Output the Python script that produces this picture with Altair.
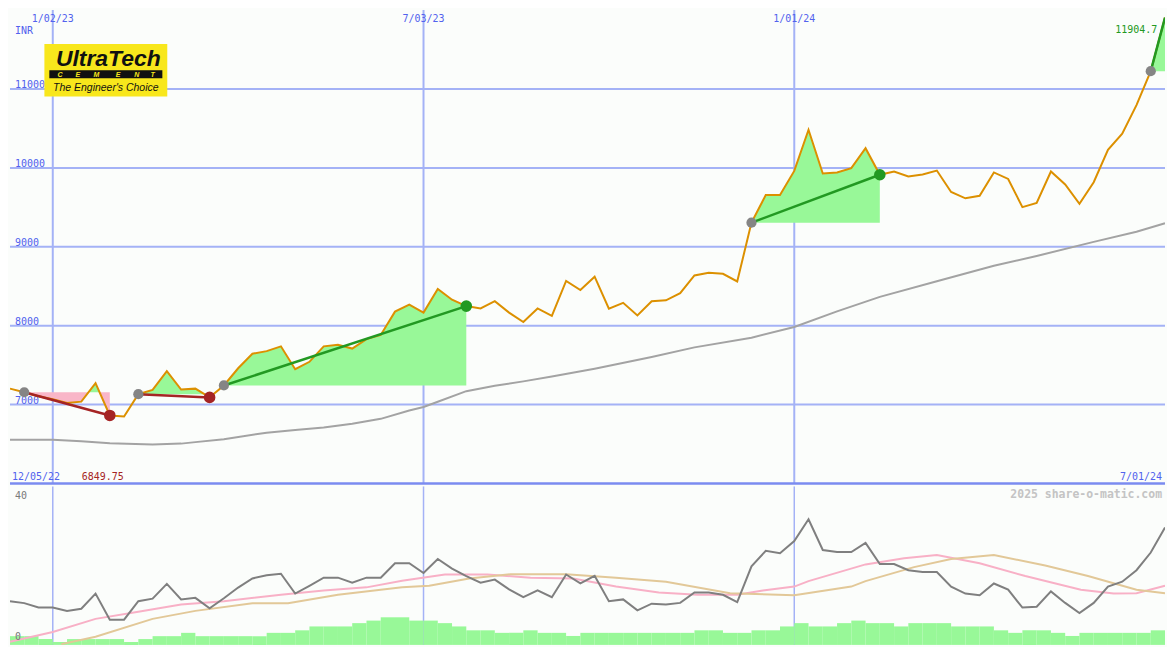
import altair as alt
import pandas as pd

# ---------------- layout helpers (reference is 1175 x 650) ----------------
REF_W, REF_H = 1175, 650
TOT_W, TOT_H = 1159, 634
SX = TOT_W / REF_W
SY = TOT_H / REF_H
H1 = 475            # price panel
H2 = TOT_H - H1     # indicator panel


def px(x):
    return x * SX


def py(y):
    return y * SY


def py2(y):
    return (y - 487) * SY


# ---------------- data ----------------
week_dates = pd.date_range("2022-12-12", periods=82, freq="7D")  # weekly closes

price = [7202, 7156, 7105, 7068, 7021, 7037, 7271, 6862, 6849.75, 7132,
         7185, 7423, 7190, 7202, 7091, 7242, 7460, 7645, 7677, 7738,
         7448, 7542, 7738, 7759, 7710, 7830, 7882, 8178, 8268, 8166,
         8465, 8329, 8248, 8218, 8310, 8166, 8046, 8218, 8125, 8568,
         8452, 8621, 8215, 8289, 8129, 8310, 8322, 8412, 8637, 8670,
         8658, 8560, 9306, 9655, 9655, 9962, 10483, 9929, 9942, 9996,
         10249, 9913, 9954, 9892, 9917, 9966, 9695, 9614, 9646, 9942,
         9860, 9503, 9556, 9954, 9790, 9544, 9818, 10230, 10434, 10796,
         11226, 11904.7]

ma_weeks = [0, 3, 5, 7, 10, 12, 13, 15, 18, 20, 22, 24, 26, 28, 29, 30, 32, 34,
            36, 38, 41, 45, 48, 52, 55, 58, 61, 65, 69, 72, 76, 79, 81]
ma_vals = [6554, 6554, 6536, 6509, 6493, 6505, 6524, 6561, 6644, 6678, 6708, 6758,
           6819, 6924, 6970, 7035, 7170, 7238, 7294, 7355, 7454, 7602, 7725, 7848,
           7984, 8181, 8365, 8563, 8760, 8883, 9062, 9191, 9298]

trade_entry = [1, 9, 15, 52, 80]
trade_exit = [7, 14, 32, 61, 81]
trade_win = [False, False, True, True, True]
trade_open = [False, False, False, False, True]

adx = [11.25, 10.75, 9.6, 9.6, 8.75, 9.3, 13.2, 6.5, 6.5, 11.25,
       11.9, 15.7, 11.7, 12.1, 9.4, 12.0, 14.75, 17.1, 17.9, 18.3,
       13.2, 15.2, 17.3, 17.3, 16.0, 17.3, 17.3, 21.0, 21.0, 18.5,
       22.1, 19.6, 17.7, 16.0, 16.8, 14.3, 12.3, 14.0, 12.25, 18.1,
       15.8, 17.75, 11.25, 11.7, 8.9, 10.6, 10.4, 10.8, 13.5, 13.5,
       12.9, 11.0, 20.2, 24.2, 23.6, 26.7, 32.3, 24.4, 23.9, 23.9,
       26.25, 20.8, 20.8, 19.2, 18.75, 18.75, 15.0, 13.2, 12.75, 15.8,
       14.2, 9.6, 9.8, 13.75, 10.8, 8.2, 10.8, 15.0, 16.25, 19.2,
       23.75, 30.2]

pink_weeks = [0, 3, 6, 9, 12, 15, 19, 22, 25, 27.5, 30.5, 33.5, 36.5, 39.5, 42.5,
              45.5, 48.2, 51, 52.8, 55, 56, 60, 62.7, 65, 68, 71.2, 75.1, 77.4, 79, 81]
pink_vals = [0.8, 3.3, 6.7, 8.5, 10.4, 11.25, 12.9, 14.0, 14.8, 16.5, 18.1, 18.1,
             17.3, 17.1, 15.0, 13.5, 12.9, 12.9, 14.0, 15.0, 16.4, 20.7, 22.3, 23.1,
             21.0, 17.7, 14.2, 13.2, 13.3, 15.2]

tan_weeks = [3.6, 6, 10, 13, 17, 19.5, 23, 27.5, 29.4, 32.2, 35.1, 39, 42.5, 46,
             50.5, 55, 59, 60, 63.4, 66, 69, 72.6, 75.6, 79, 81]
tan_vals = [0.2, 2.1, 6.7, 8.75, 10.7, 10.7, 12.9, 14.8, 15.2, 17.1, 18.2, 18.2,
            17.3, 16.25, 13.3, 12.75, 15.0, 16.4, 20.0, 22.1, 23.1, 20.4, 17.7, 14.2, 13.3]

vol = [2.25, 2.25, 1.5, 0.75, 1.5, 1.5, 1.5, 1.5, 0.75, 1.5,
       2.25, 2.25, 3.1, 2.25, 2.25, 2.25, 2.25, 2.25, 3.1, 3.1,
       3.75, 4.75, 4.75, 4.75, 5.6, 6.25, 7.1, 7.1, 6.25, 6.25,
       5.6, 4.75, 3.75, 3.75, 3.1, 3.1, 3.75, 3.1, 3.1, 2.3,
       3.1, 3.1, 3.1, 3.1, 3.1, 3.1, 3.1, 3.1, 3.75, 3.75,
       3.1, 3.1, 3.75, 3.75, 4.75, 5.6, 4.75, 4.75, 5.6, 6.25,
       5.6, 5.6, 4.75, 5.6, 5.6, 5.6, 4.75, 4.75, 4.75, 3.75,
       3.1, 3.75, 3.75, 3.1, 2.3, 3.1, 3.1, 3.1, 3.1, 3.1,
       3.75]

y_ticks = [7000, 8000, 9000, 10000, 11000]
x_grid_weeks = [3, 29, 55]
x_grid_labels = ["1/02/23", "7/03/23", "1/01/24"]
first_label = "12/05/22"
last_label = "7/01/24"
min_label = "6849.75"
last_value_label = "11904.7"

# ---------------- styles ----------------
BG = "#fbfdfb"
GRID = "#a4b2f6"
SEP = "#7b8bf0"
LBL = "#5262ee"
ORANGE = "#dc9000"
MA_GREY = "#a3a3a3"
FILL_G = "#98f898"
FILL_P = "#f9b6c8"
WIN = "#229922"
LOSS = "#a52424"
FONT = "DejaVu Sans Mono"

# ---------------- frames ----------------
n = len(price)
price_df = pd.DataFrame({"w": list(range(n)), "date": week_dates, "p": price})
ma_df = pd.DataFrame({"w": ma_weeks, "v": ma_vals})

fill_rows = []
for t, (a, b) in enumerate(zip(trade_entry, trade_exit)):
    L = price[a]
    pts = []
    for i in range(a, b + 1):
        pts.append((i, price[i]))
        if i < b:
            p0, p1 = price[i], price[i + 1]
            if (p0 - L) * (p1 - L) < 0:
                pts.append((i + (L - p0) / (p1 - p0), L))
    for xv, pv in pts:
        fill_rows.append({"w": xv, "trade": t, "level": L,
                          "up": max(pv, L), "dn": min(pv, L)})
fill_df = pd.DataFrame(fill_rows)

tl_rows, entry_rows, exit_rows = [], [], []
for t, (a, b, win, op) in enumerate(zip(trade_entry, trade_exit, trade_win, trade_open)):
    col = WIN if win else LOSS
    tl_rows.append({"trade": t, "w": a, "p": price[a], "col": col})
    tl_rows.append({"trade": t, "w": b, "p": price[b], "col": col})
    entry_rows.append({"w": a, "p": price[a]})
    if not op:
        exit_rows.append({"w": b, "p": price[b], "col": col})
tl_df = pd.DataFrame(tl_rows)
entry_df = pd.DataFrame(entry_rows)
exit_df = pd.DataFrame(exit_rows)

adx_df = pd.DataFrame({"w": list(range(n)), "v": adx})
pink_df = pd.DataFrame({"w": pink_weeks, "v": pink_vals})
tan_df = pd.DataFrame({"w": tan_weeks, "v": tan_vals})
vol_df = pd.DataFrame({"w": list(range(len(vol))),
                       "w2": [i + 1 for i in range(len(vol))], "v": vol})
ytick_df = pd.DataFrame({"v": y_ticks, "t": [str(v) for v in y_ticks]})
xgrid_df = pd.DataFrame({"w": x_grid_weeks, "t": x_grid_labels})

xs = alt.Scale(domain=[0, n - 1], nice=False, zero=False)
ys = alt.Scale(domain=[6000, 12000], nice=False, zero=False)
ys2 = alt.Scale(domain=[0, 40.75], nice=False, zero=False)

X = lambda f: alt.X(f, scale=xs, axis=None)
Y = lambda f: alt.Y(f, scale=ys, axis=None)
Y2s = lambda f: alt.Y(f, scale=ys2, axis=None)


def one(text):
    return pd.DataFrame({"t": [text]})


# ---------------- upper panel ----------------
hgrid = alt.Chart(ytick_df).mark_rule(color=GRID, strokeWidth=2).encode(y=Y("v:Q"))
vgrid = alt.Chart(xgrid_df).mark_rule(color=GRID, strokeWidth=2).encode(x=X("w:Q"))
ylabels = alt.Chart(ytick_df).mark_text(
    font=FONT, fontSize=10, color=LBL, align="left", baseline="alphabetic", dy=-1
).encode(y=Y("v:Q"), x=alt.value(px(5)), text="t:N")

fill_green = alt.Chart(fill_df).mark_area(color=FILL_G, opacity=1, clip=True).encode(
    x=X("w:Q"), y=Y("up:Q"), y2="level:Q", detail="trade:N")
fill_pink = alt.Chart(fill_df).mark_area(color=FILL_P, opacity=1, clip=True).encode(
    x=X("w:Q"), y=Y("dn:Q"), y2="level:Q", detail="trade:N")

ma_line = alt.Chart(ma_df).mark_line(color=MA_GREY, strokeWidth=2, clip=True).encode(
    x=X("w:Q"), y=Y("v:Q"))
price_line = alt.Chart(price_df).mark_line(color=ORANGE, strokeWidth=2, clip=True).encode(
    x=X("w:Q"), y=Y("p:Q"))
trade_lines = alt.Chart(tl_df).mark_line(strokeWidth=2.5, clip=True).encode(
    x=X("w:Q"), y=Y("p:Q"), detail="trade:N", color=alt.Color("col:N", scale=None))
entry_dots = alt.Chart(entry_df).mark_circle(color="#858585", opacity=1, size=105).encode(
    x=X("w:Q"), y=Y("p:Q"))
exit_dots = alt.Chart(exit_df).mark_circle(opacity=1, size=135).encode(
    x=X("w:Q"), y=Y("p:Q"), color=alt.Color("col:N", scale=None))

top_dates = alt.Chart(xgrid_df).mark_text(
    font=FONT, fontSize=10, color=LBL, align="center", baseline="top"
).encode(x=X("w:Q"), y=alt.value(py(4)), text="t:N")
inr = alt.Chart(one("INR")).mark_text(
    font=FONT, fontSize=10, color=LBL, align="left", baseline="top"
).encode(x=alt.value(px(5)), y=alt.value(py(16)), text="t:N")
first_lbl = alt.Chart(one(first_label)).mark_text(
    font=FONT, fontSize=10, color=LBL, align="left", baseline="alphabetic"
).encode(x=alt.value(px(2)), y=alt.value(py(483)), text="t:N")
last_lbl = alt.Chart(one(last_label)).mark_text(
    font=FONT, fontSize=10, color=LBL, align="right", baseline="alphabetic"
).encode(x=alt.value(px(1172)), y=alt.value(py(483)), text="t:N")
min_lbl = alt.Chart(one(min_label)).mark_text(
    font=FONT, fontSize=10, color=LOSS, align="left", baseline="alphabetic"
).encode(x=alt.value(px(73)), y=alt.value(py(483)), text="t:N")
lastval_lbl = alt.Chart(one(last_value_label)).mark_text(
    font=FONT, fontSize=10, color=WIN, align="right", baseline="middle"
).encode(x=alt.value(px(1167)), y=alt.value(py(21)), text="t:N")

# logo
logo_bg = alt.Chart(one("")).mark_rect(color="#f8e71c").encode(
    x=alt.value(px(35)), x2=alt.value(px(160)), y=alt.value(py(35)), y2=alt.value(py(89)))
logo_band = alt.Chart(one("")).mark_rect(color="#111111").encode(
    x=alt.value(px(40)), x2=alt.value(px(155)), y=alt.value(py(62)), y2=alt.value(py(70)))
logo_title = alt.Chart(one("UltraTech")).mark_text(
    font="Liberation Sans", fontSize=23, fontWeight="bold", fontStyle="italic",
    color="#111111", align="center", baseline="alphabetic"
).encode(x=alt.value(px(100)), y=alt.value(py(58)), text="t:N")
cement_df = pd.DataFrame({"t": list("CEMENT"), "x": [px(v) for v in [51, 69, 88, 110, 129, 145]]})
logo_cement = alt.Chart(cement_df).mark_text(
    font="Liberation Sans", fontSize=7, fontWeight="bold", fontStyle="italic",
    color="#f8e71c", align="center", baseline="middle"
).encode(x=alt.X("x:Q", scale=None), y=alt.value(py(66.3)), text="t:N")
logo_tag = alt.Chart(one("The Engineer's Choice")).mark_text(
    font="Liberation Sans", fontSize=10.5, fontStyle="italic",
    color="#111111", align="center", baseline="alphabetic"
).encode(x=alt.value(px(97.5)), y=alt.value(py(83)), text="t:N")

separator = alt.Chart(one("")).mark_rule(color=SEP, strokeWidth=2.5).encode(
    y=alt.datum(6000, scale=ys, axis=None))

upper = alt.layer(
    hgrid, vgrid, ylabels, fill_green, fill_pink, ma_line, price_line, trade_lines,
    entry_dots, exit_dots, top_dates, inr, first_lbl, last_lbl, min_lbl, lastval_lbl,
    logo_bg, logo_band, logo_title, logo_cement, logo_tag, separator
).properties(width=TOT_W, height=H1)

# ---------------- lower panel ----------------
vgrid2 = alt.Chart(xgrid_df).mark_rule(color=GRID, strokeWidth=1.5).encode(x=X("w:Q"))
bars = alt.Chart(vol_df).mark_rect(color=FILL_G).encode(
    x=X("w:Q"), x2="w2:Q", y=Y2s("v:Q"), y2=alt.datum(0))
pink_line = alt.Chart(pink_df).mark_line(color="#f8b0c6", strokeWidth=2, clip=True).encode(
    x=X("w:Q"), y=Y2s("v:Q"))
tan_line = alt.Chart(tan_df).mark_line(color="#e2c898", strokeWidth=2, clip=True).encode(
    x=X("w:Q"), y=Y2s("v:Q"))
adx_line = alt.Chart(adx_df).mark_line(color="#7f7f7f", strokeWidth=2, clip=True).encode(
    x=X("w:Q"), y=Y2s("v:Q"))
lbl40 = alt.Chart(one("40")).mark_text(
    font=FONT, fontSize=10, color="#7a7a7a", align="left", baseline="top"
).encode(x=alt.value(px(5)), y=alt.value(py2(492)), text="t:N")
lbl0 = alt.Chart(one("0")).mark_text(
    font=FONT, fontSize=10, color="#7a7a7a", align="left", baseline="alphabetic"
).encode(x=alt.value(px(5)), y=alt.value(py2(645)), text="t:N")
watermark = alt.Chart(one("2025 share-o-matic.com")).mark_text(
    font=FONT, fontSize=11.5, fontWeight="bold", color="#c4c4c4", align="right", baseline="top"
).encode(x=alt.value(px(1172)), y=alt.value(py2(490)), text="t:N")

lower = alt.layer(
    vgrid2, bars, pink_line, tan_line, adx_line, lbl40, lbl0, watermark
).properties(width=TOT_W, height=H2)

chart = alt.vconcat(upper, lower, spacing=0).properties(
    padding=0, background=BG
).configure_view(stroke=None)

chart.save("out.html", embed_options={"renderer": "svg", "actions": False})
